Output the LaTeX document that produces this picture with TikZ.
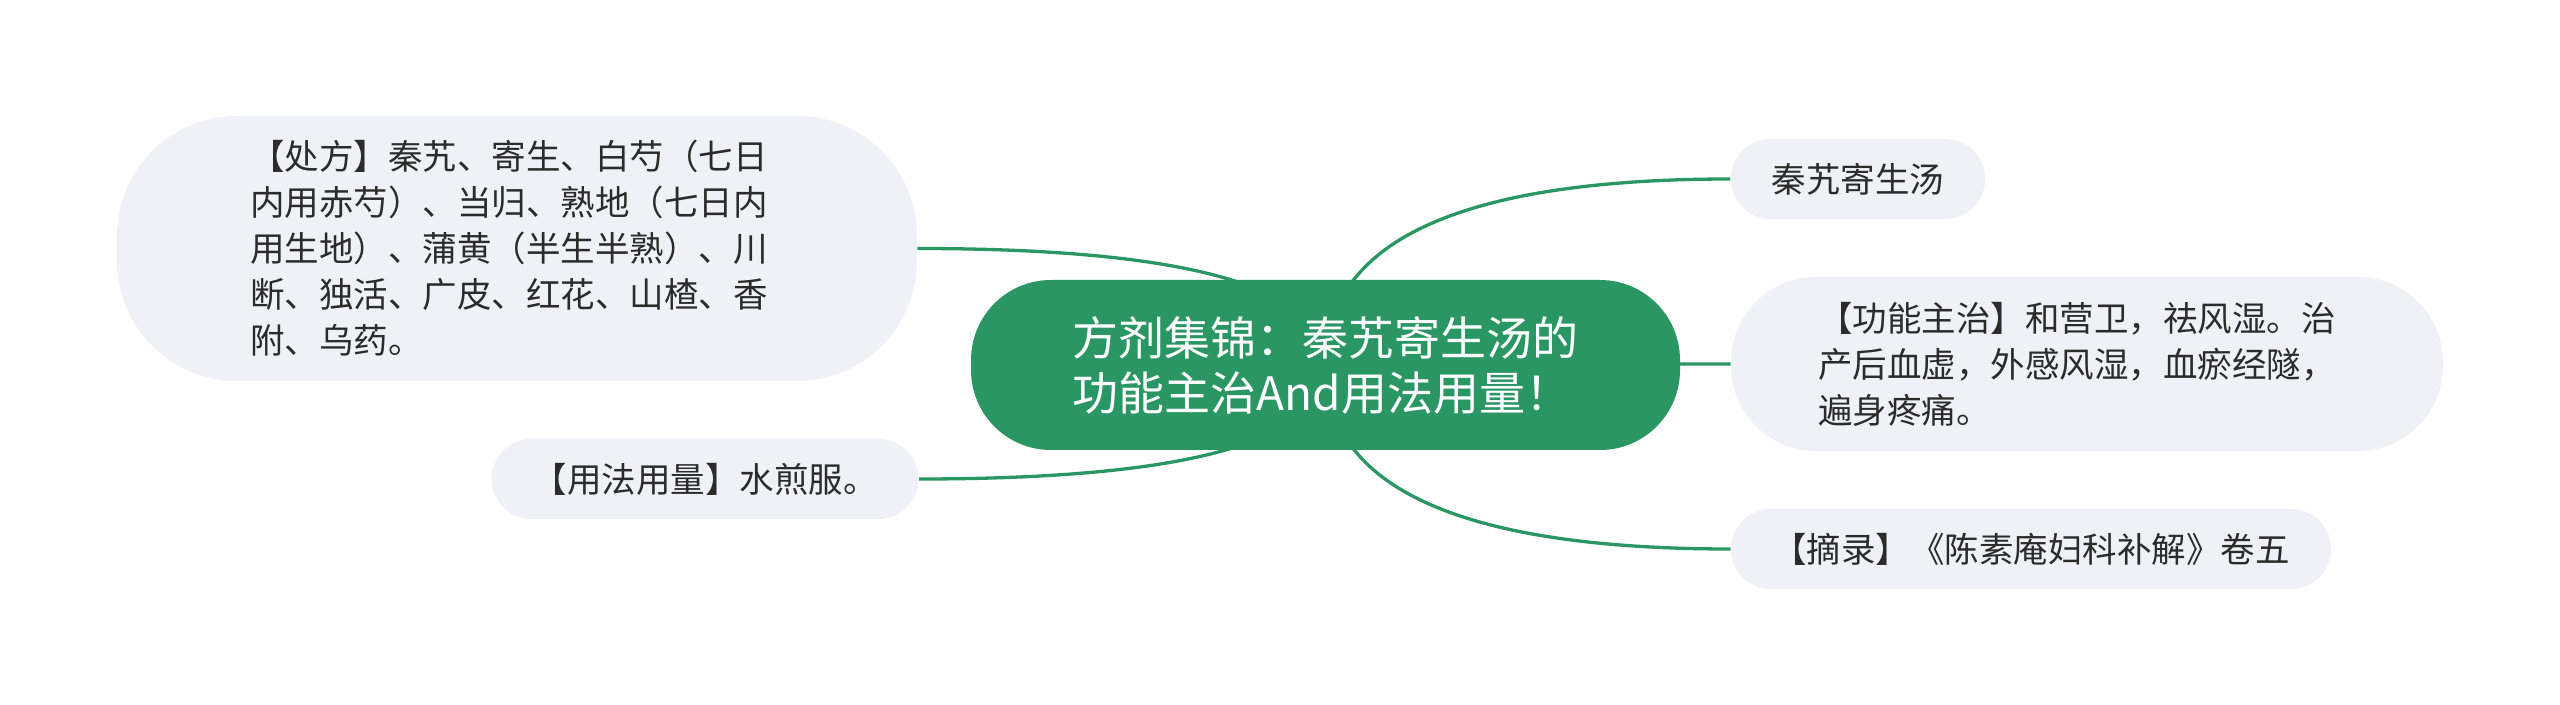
\documentclass[tikz,border=0pt]{standalone}
\usepackage{fontspec}
\setmainfont{Noto Sans CJK SC}
\usetikzlibrary{calc,backgrounds}
\definecolor{mmgreen}{HTML}{2A9664}
\definecolor{leaffill}{HTML}{EEF1F5}
\definecolor{leaftext}{HTML}{2B2B2B}
\begin{document}
\begin{tikzpicture}[x=0.5pt,y=-0.5pt,
  rootbox/.style={fill=mmgreen, text=white, rounded corners=40pt, minimum width=354.5pt, minimum height=85pt, align=left, font=\fontsize{23pt}{27.5pt}\selectfont, inner sep=0pt},
  leafbox/.style={fill=leaffill, text=leaftext, align=left, font=\fontsize{17.25pt}{23pt}\selectfont, inner ysep=0pt, inner xsep=20.5pt},
  link/.style={draw=mmgreen, line width=1.65pt}
]
\useasboundingbox (0,0) rectangle (2560,705);
\node[rootbox] (root) at (1325.5,365) {方剂集锦：秦艽寄生汤的\\功能主治And用法用量！};
\node[leafbox, rounded corners=60pt, minimum width=400pt, minimum height=132.5pt, text width=267pt, inner xsep=66.5pt] (pres) at (517,248.5) {【处方】秦艽、寄生、白芍（七日\\内用赤芍）、当归、熟地（七日内\\用生地）、蒲黄（半生半熟）、川\\断、独活、广皮、红花、山楂、香\\附、乌药。};
\node[leafbox, rounded corners=20pt, minimum width=212pt, minimum height=40pt] (usage) at (705,479) {【用法用量】水煎服。};
\node[leafbox, rounded corners=20pt, minimum width=126pt, minimum height=40pt] (name) at (1858,179) {秦艽寄生汤};
\node[leafbox, rounded corners=42.5pt, minimum width=356pt, minimum height=87pt, text width=269pt, inner xsep=43.5pt] (func) at (2087,364) {【功能主治】和营卫，祛风湿。治\\产后血虚，外感风湿，血瘀经隧，\\遍身疼痛。};
\node[leafbox, rounded corners=20pt, minimum width=300pt, minimum height=40pt] (src) at (2031,549) {【摘录】《陈素庵妇科补解》卷五};
\begin{scope}[on background layer]
\fill[white] (0,0) rectangle (2560,705);
\foreach \t/\a in {pres/east, usage/east, name/west, func/west, src/west} {
  \draw[link] (root.center) .. controls ($(root.center)!2/3!(root.center |- \t.\a)$) and ($(\t.\a)!2/3!(root.center |- \t.\a)$) .. (\t.\a);
}
\end{scope}
\end{tikzpicture}
\end{document}
